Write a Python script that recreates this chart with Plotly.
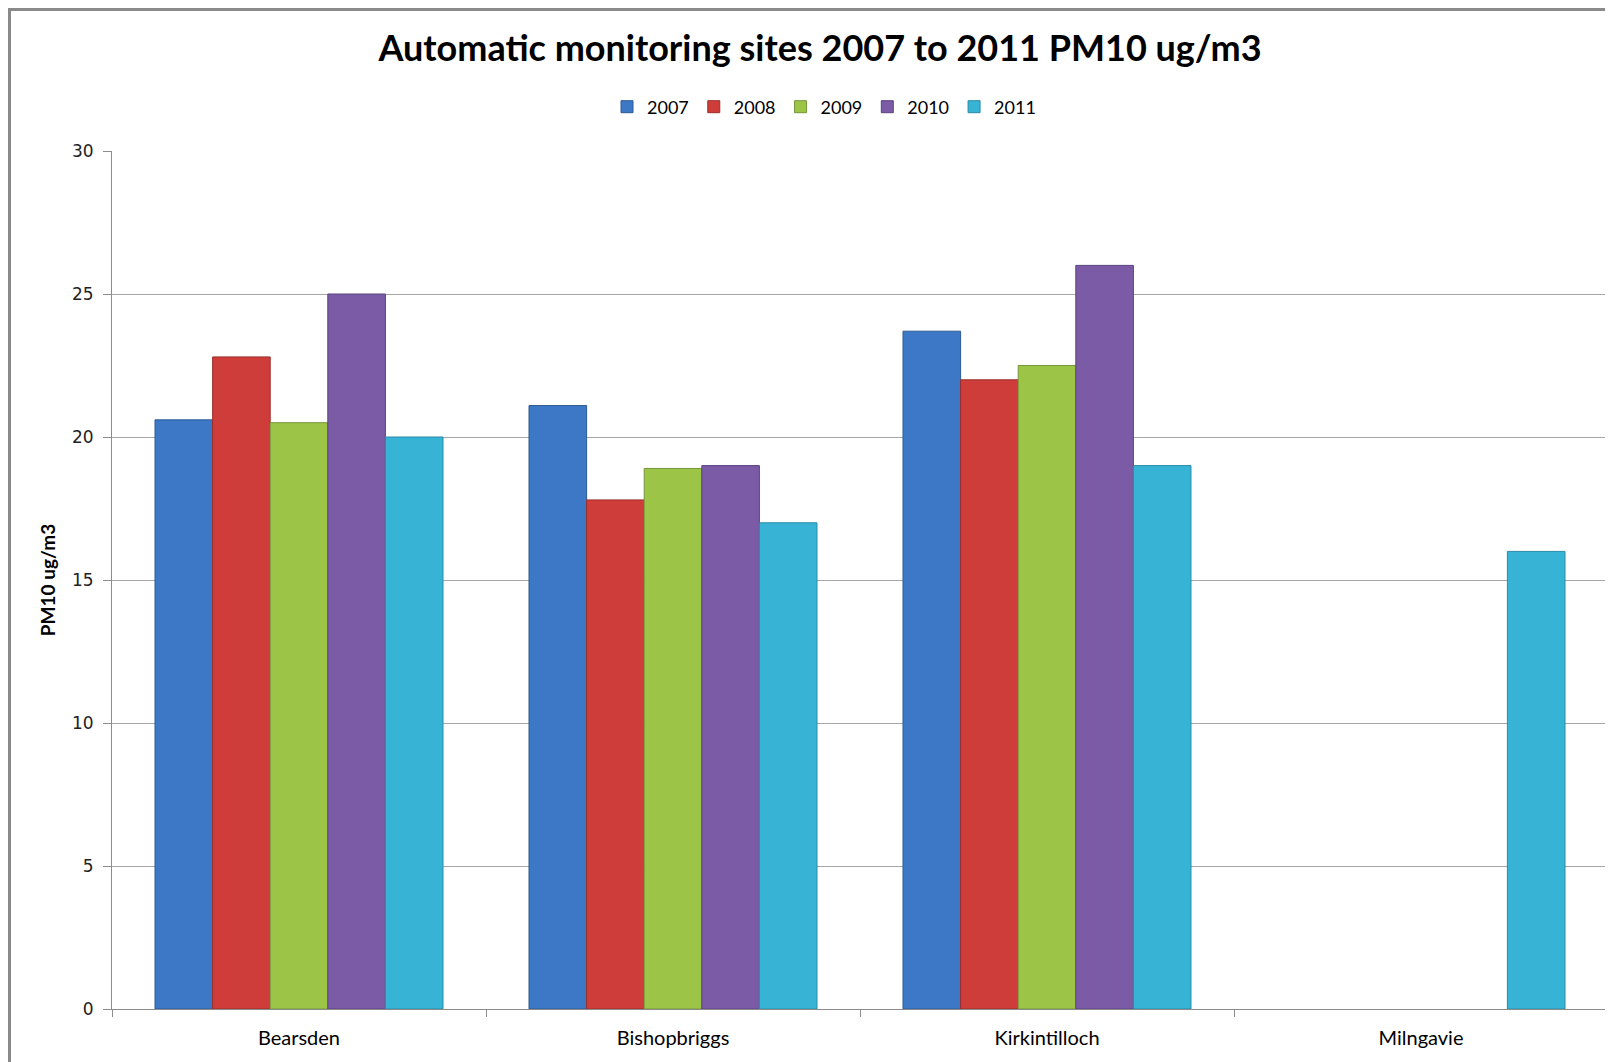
import plotly.graph_objects as go

sites = ["Bearsden", "Bishopbriggs", "Kirkintilloch", "Milngavie"]
years = ["2007", "2008", "2009", "2010", "2011"]
v2007 = [20.6, 21.1, 23.7, None]
v2008 = [22.8, 17.8, 22.0, None]
v2009 = [20.5, 18.9, 22.5, None]
v2010 = [25.0, 19.0, 26.0, None]
v2011 = [20.0, 17.0, 19.0, 16.0]
series = [v2007, v2008, v2009, v2010, v2011]
y_ticks = [0, 5, 10, 15, 20, 25, 30]

fills = ["#3c78c6", "#cf3d3a", "#9cc446", "#7b5aa6", "#37b3d6"]
edges = ["#2c5a94", "#9b2e2b", "#76963a", "#5b4380", "#2a8aa6"]

W, H = 1613, 1062
OFF = 8  # page body margin
L, R, T, B = 112 - OFF, 13, 151 - OFF, 53 + OFF

fig = go.Figure()
for name, vals, f, e in zip(years, series, fills, edges):
    fig.add_trace(go.Bar(
        x=sites, y=vals, name=name,
        marker=dict(color=f, line=dict(color=e, width=1)),
    ))

pw = W - L - R
ph = H - T - B


def px_x(xp):
    return (xp - OFF - L) / pw


def px_y(yp):
    return 1 - (yp - OFF - T) / ph


fig.update_layout(
    width=W, height=H,
    margin=dict(l=L, r=R, t=T, b=B),
    paper_bgcolor="white", plot_bgcolor="white",
    barmode="group", bargap=0.23, bargroupgap=0,
    title=dict(text="<b>Automatic monitoring sites 2007 to 2011 PM10 ug/m3</b>",
               font=dict(family="Lato", size=36, color="black"),
               x=px_x(820), xref="paper", xanchor="center",
               y=1 - (48 - OFF) / H, yref="container", yanchor="middle"),
    legend=dict(orientation="h", x=px_x(824), xanchor="center",
                y=px_y(107), yanchor="middle",
                font=dict(family="Lato", size=18, color="black"),
                itemwidth=30, tracegroupgap=0),
    xaxis=dict(showline=True, linecolor="#8c8c8c", linewidth=1,
               ticks="outside", tickson="boundaries", ticklen=7, tickcolor="#8c8c8c",
               tickfont=dict(family="Lato", size=20, color="black"),
               ticklabelstandoff=11, showgrid=False),
    yaxis=dict(range=[0, 30], tickvals=y_ticks, showline=True, linecolor="#8c8c8c",
               linewidth=1, ticks="outside", ticklen=8, tickcolor="#8c8c8c",
               gridcolor="#a6a6a6", gridwidth=1,
               tickfont=dict(family="DejaVu Sans", size=17, color="#222222"),
               ticklabelstandoff=6,
               title=dict(text="<b>PM10 ug/m3</b>",
                          font=dict(family="Lato", size=19, color="black"),
                          standoff=11)),
    shapes=[
        dict(type="line", xref="paper", yref="paper",
             x0=px_x(8), x1=px_x(W + 20),
             y0=px_y(9.5), y1=px_y(9.5),
             line=dict(color="#8a8a8a", width=3)),
        dict(type="line", xref="paper", yref="paper",
             x0=px_x(9.5), x1=px_x(9.5),
             y0=px_y(8), y1=px_y(H + 20),
             line=dict(color="#8a8a8a", width=3)),
    ],
)

fig.write_html("out.html")
